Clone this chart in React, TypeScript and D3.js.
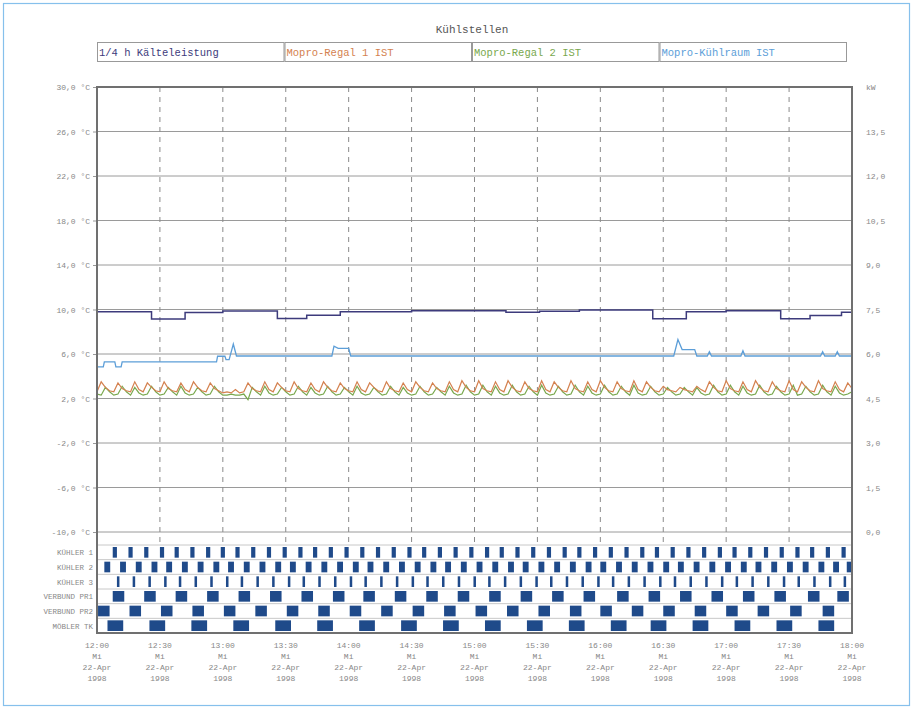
import React, { useEffect, useRef } from 'react';
import * as d3 from 'd3';

// minutes after 12:00 on 22-Apr-1998
const tickTimes = ["12:00", "12:30", "13:00", "13:30", "14:00", "14:30", "15:00", "15:30", "16:00", "16:30", "17:00", "17:30", "18:00"];
const tickDay = "Mi";
const tickDate = "22-Apr";
const tickYear = "1998";

const seriesNames = ["1/4 h Kälteleistung", "Mopro-Regal 1 IST", "Mopro-Regal 2 IST", "Mopro-Kühlraum IST"];
const seriesColors = ["#3d3b7c", "#d4814f", "#79a84e", "#5c9ed8"];

const tempTicks = [-10, -6, -2, 2, 6, 10, 14, 18, 22, 26, 30];
const powerTicks = [0, 1.5, 3, 4.5, 6, 7.5, 9, 10.5, 12, 13.5, 15];

// 1/4 h Kälteleistung [minute, kW] (step)
const powerData: [number, number][] = [
  [0, 7.42], [26, 7.18], [42, 7.40], [60, 7.45], [86, 7.20], [100, 7.31], [116, 7.42],
  [150, 7.46], [195, 7.41], [211, 7.44], [230, 7.48], [265, 7.19], [281, 7.42],
  [300, 7.46], [326, 7.19], [340, 7.30], [355, 7.41], [360, 7.41]
];

// Mopro-Kühlraum IST [minute, °C]
const roomData: [number, number][] = [
  [0, 4.85], [3, 4.85], [3.5, 5.3], [8.5, 5.3], [9, 4.85], [11.5, 4.85], [12, 5.3], [57, 5.3],
  [57.5, 5.8], [61, 5.8], [61.5, 5.5], [63, 5.5], [65, 6.9], [66.5, 5.82], [112, 5.82],
  [113, 6.7], [115, 6.5], [120, 6.5], [121, 5.82], [275, 5.82], [277, 7.3], [279, 6.4],
  [285, 6.4], [286, 5.82], [291, 5.82], [292, 6.2], [293, 5.82], [307, 5.82], [308, 6.3],
  [309, 5.82], [345, 5.82], [346, 6.2], [347, 5.82], [352, 5.82], [353, 6.2], [354, 5.82], [360, 5.82]
];

// Mopro-Regal 1 IST, every 2 minutes from 12:00
const regal1 = [
  2.6, 3.5, 3.0, 2.7, 2.6, 3.4, 2.9, 2.7, 2.6, 3.5, 2.8, 2.6, 3.4, 3.0, 2.7,
  2.6, 3.5, 2.9, 2.7, 2.6, 3.4, 2.8, 2.6, 3.5, 3.0, 2.7, 2.6, 3.4, 2.9, 2.7,
  2.5, 2.6, 2.5, 2.8, 2.5, 2.6, 3.4, 2.9, 2.7, 2.6, 3.5, 2.8, 2.6, 3.4, 3.0,
  2.7, 2.6, 3.5, 2.9, 2.7, 2.6, 3.4, 2.8, 2.6, 3.5, 3.0, 2.7, 2.6, 3.4, 2.9,
  2.7, 2.6, 3.5, 2.8, 2.6, 3.4, 3.0, 2.7, 2.6, 3.5, 2.9, 2.7, 2.6, 3.4, 2.8,
  2.6, 3.5, 3.0, 2.7, 2.6, 3.4, 2.9, 2.7, 2.6, 3.5, 2.8, 2.6, 3.6, 3.0, 2.7,
  2.6, 3.6, 2.9, 2.7, 2.6, 3.5, 2.8, 2.6, 3.6, 3.0, 2.7, 2.6, 3.5, 2.9, 2.7,
  2.6, 3.6, 2.8, 2.6, 3.5, 3.0, 2.7, 2.6, 3.6, 2.9, 2.7, 2.6, 3.5, 2.8, 2.6,
  3.6, 3.0, 2.7, 2.6, 3.5, 2.9, 2.7, 2.6, 3.6, 2.8, 2.6, 3.5, 3.0, 2.7, 2.6,
  3.1, 2.8, 2.7, 2.6, 3.0, 2.8, 2.7, 2.6, 3.1, 2.8, 2.6, 3.5, 3.0, 2.7, 2.6,
  3.6, 2.9, 2.7, 2.6, 3.5, 2.8, 2.6, 3.6, 3.0, 2.7, 2.6, 3.5, 2.9, 2.7, 2.6,
  3.6, 2.8, 2.6, 3.5, 3.0, 2.7, 2.6, 3.6, 2.9, 2.7, 2.6, 3.5, 2.8, 2.6, 3.4,
  2.9
];

// Mopro-Regal 2 IST, every 2 minutes from 12:00
const regal2 = [
  2.4, 2.3, 3.0, 2.6, 2.3, 2.4, 3.1, 2.6, 2.3, 3.0, 2.5, 2.3, 2.4, 3.1, 2.6,
  2.3, 2.4, 3.0, 2.6, 2.3, 3.1, 2.5, 2.3, 2.4, 3.0, 2.6, 2.3, 2.4, 3.1, 2.6,
  2.3, 2.3, 2.4, 2.3, 2.3, 2.4, 1.9, 3.0, 2.6, 2.3, 3.1, 2.5, 2.3, 2.4, 3.0,
  2.6, 2.3, 2.4, 3.1, 2.6, 2.3, 3.0, 2.5, 2.3, 2.4, 3.1, 2.6, 2.3, 2.4, 3.0,
  2.6, 2.3, 3.1, 2.5, 2.3, 2.4, 3.0, 2.6, 2.3, 2.4, 3.1, 2.6, 2.3, 3.0, 2.5,
  2.3, 2.4, 3.1, 2.6, 2.3, 2.4, 3.0, 2.6, 2.3, 3.1, 2.5, 2.3, 2.4, 3.2, 2.6,
  2.3, 2.4, 3.2, 2.6, 2.3, 3.1, 2.5, 2.3, 2.4, 3.2, 2.6, 2.3, 2.4, 3.1, 2.6,
  2.3, 3.2, 2.5, 2.3, 2.4, 3.1, 2.6, 2.3, 2.4, 3.2, 2.6, 2.3, 3.1, 2.5, 2.3,
  2.4, 3.2, 2.6, 2.3, 2.4, 3.1, 2.6, 2.3, 3.2, 2.5, 2.3, 2.4, 3.1, 2.6, 2.3,
  2.4, 3.0, 2.6, 2.3, 2.4, 3.0, 2.6, 2.3, 3.0, 2.5, 2.3, 2.4, 3.2, 2.6, 2.3,
  2.4, 3.2, 2.6, 2.3, 3.1, 2.5, 2.3, 2.4, 3.2, 2.6, 2.3, 2.4, 3.1, 2.6, 2.3,
  2.4, 3.2, 2.3, 2.4, 3.1, 2.6, 2.3, 2.4, 3.2, 2.6, 2.3, 3.1, 2.5, 2.3, 2.4,
  2.6
];

// digital channels: ON start minutes + on duration
const digitalNames = ["KÜHLER 1", "KÜHLER 2", "KÜHLER 3", "VERBUND PR1", "VERBUND PR2", "MÖBLER TK"];
const kuehler1 = [7.5, 15, 22.5, 30, 37, 44.5, 52, 59, 66, 73.5, 81, 88.5, 96, 103, 110.5, 118, 125.5, 133, 140.5, 148, 155, 162.5, 170, 177.5, 185, 192, 199.5, 207, 214.5, 222, 229, 236.5, 244, 251.5, 259, 266, 273.5, 281, 288.5, 296, 303, 310.5, 318, 325.5, 333, 340, 347.5, 355];
const kuehler2 = [3.5, 11, 18.5, 26, 33, 40.5, 48, 55.5, 62.5, 70, 77.5, 85, 92, 99.5, 107, 114.5, 122, 129, 136.5, 144, 151.5, 159, 166, 173.5, 181, 188.5, 196, 203, 210.5, 218, 225.5, 233, 240, 247.5, 255, 262.5, 270, 277, 284.5, 292, 299.5, 307, 314, 321.5, 329, 336.5, 344, 351, 357.5];
const kuehler3 = [9.5, 17, 24.5, 32, 39, 46.5, 54, 61.5, 68.5, 76, 83.5, 91, 98, 105.5, 113, 120.5, 127.5, 135, 142.5, 150, 157, 164.5, 172, 179.5, 186.5, 194, 201.5, 209, 216, 223.5, 231, 238.5, 245.5, 253, 260.5, 268, 275, 282.5, 290, 297.5, 304.5, 312, 319.5, 327, 334, 341.5, 349, 356];
const verbund1 = [7.5, 22.5, 37.5, 52.5, 67.5, 82.5, 97.5, 112.5, 127, 142, 157, 172, 187, 202, 217, 232, 248, 263, 278, 293, 308, 323, 339, 353];
const verbund2 = [0.5, 15.5, 30.5, 45.5, 60.5, 75.5, 90.5, 105.5, 120.5, 135.5, 150.5, 165.5, 180.5, 195.5, 210.5, 225.5, 240, 255, 270, 285, 300, 315, 330.5, 346];
const moebler = [5, 25, 45, 65, 85, 105, 125, 145, 165, 185, 205, 225, 245, 264, 284, 304, 324, 344];
const digitalStarts = [kuehler1, kuehler2, kuehler3, verbund1, verbund2, moebler];
const digitalDurations = [2, 2.8, 1.2, 5.5, 5.5, 7.5];

const FONT = "'Liberation Mono', 'DejaVu Sans Mono', monospace";

const App = () => {
    const ref = useRef<SVGSVGElement | null>(null);

    useEffect(() => {
        if (!ref.current) return;
        const svg = d3.select(ref.current);
        svg.selectAll("*").remove();

        const left = 97, right = 852, top = 87, plotBottom = 532;
        const digTop = 545, digBottom = 633;

        const x = d3.scaleLinear().domain([0, 360]).range([left, right]);
        const yT = d3.scaleLinear().domain([-10, 30]).range([plotBottom, top]);
        const yP = d3.scaleLinear().domain([0, 15]).range([plotBottom, top]);
        const row = d3.scaleBand<number>().domain(d3.range(digitalNames.length)).range([digTop, digBottom]);

        // outer frame
        svg.append("rect").attr("x", 3.5).attr("y", 3.5).attr("width", 906).attr("height", 702)
            .attr("fill", "white").attr("stroke", "#86c0ec").attr("stroke-width", 1.2);

        // title
        svg.append("text").attr("x", 472).attr("y", 33).attr("text-anchor", "middle")
            .attr("font-family", FONT).attr("font-size", 11).attr("fill", "#555").text("Kühlstellen");

        // legend boxes
        const legX = d3.scaleBand<number>().domain(d3.range(4)).range([97, 847]);
        seriesNames.forEach((name, i) => {
            const g = svg.append("g").attr("transform", `translate(${legX(i)},42)`);
            g.append("rect").attr("x", 0.5).attr("y", 0.5).attr("width", legX.bandwidth() - 1).attr("height", 19)
                .attr("fill", "white").attr("stroke", "#999").attr("stroke-width", 1);
            g.append("text").attr("x", 2).attr("y", 14).attr("font-family", FONT).attr("font-size", 10.5)
                .attr("fill", seriesColors[i]).text(name);
        });

        // horizontal grid
        svg.append("g").selectAll("line").data(tempTicks).enter().append("line")
            .attr("x1", left).attr("x2", right).attr("y1", d => yT(d)).attr("y2", d => yT(d))
            .attr("stroke", "#9a9a9a").attr("stroke-width", 1);

        // vertical dashed grid
        svg.append("g").selectAll("line").data(tickTimes.slice(1, -1)).enter().append("line")
            .attr("x1", (_, i) => x((i + 1) * 30)).attr("x2", (_, i) => x((i + 1) * 30))
            .attr("y1", top).attr("y2", digTop)
            .attr("stroke", "#8a8a8a").attr("stroke-width", 1).attr("stroke-dasharray", "5,5");

        // left axis
        const axL = svg.append("g").attr("transform", `translate(${left},0)`)
            .call(d3.axisLeft(yT).tickValues(tempTicks).tickSize(4)
                .tickFormat(d => (+d).toFixed(1).replace(".", ",") + " °C"));
        axL.selectAll("text").attr("font-family", FONT).attr("font-size", 8).attr("fill", "#888");
        axL.selectAll(".tick line").attr("stroke", "#999");
        axL.select(".domain").remove();

        // right axis
        const axR = svg.append("g").attr("transform", `translate(${right},0)`)
            .call(d3.axisRight(yP).tickValues(powerTicks).tickSize(0).tickPadding(14)
                .tickFormat(d => +d === 15 ? "kW" : (+d).toFixed(1).replace(".", ",")));
        axR.selectAll("text").attr("font-family", FONT).attr("font-size", 8).attr("fill", "#888");
        axR.select(".domain").remove();

        // series
        const plot = svg.append("g");
        const lineT = d3.line<[number, number]>().x(d => x(d[0])).y(d => yT(d[1]));
        const toPairs = (vals: number[]) => vals.map((v, i) => [i * 2, v] as [number, number]);

        plot.append("path").datum(toPairs(regal2)).attr("d", lineT)
            .attr("fill", "none").attr("stroke", seriesColors[2]).attr("stroke-width", 1.2);
        plot.append("path").datum(toPairs(regal1)).attr("d", lineT)
            .attr("fill", "none").attr("stroke", seriesColors[1]).attr("stroke-width", 1.2);
        plot.append("path").datum(roomData).attr("d", lineT)
            .attr("fill", "none").attr("stroke", seriesColors[3]).attr("stroke-width", 1.3);
        plot.append("path").datum(powerData)
            .attr("d", d3.line<[number, number]>().x(d => x(d[0])).y(d => yP(d[1])).curve(d3.curveStepAfter))
            .attr("fill", "none").attr("stroke", seriesColors[0]).attr("stroke-width", 1.5);

        // digital channels
        const dig = svg.append("g");
        digitalNames.forEach((name, i) => {
            const y0 = row(i)!;
            const h = row.bandwidth();
            dig.append("line").attr("x1", left).attr("x2", right).attr("y1", y0 + h).attr("y2", y0 + h)
                .attr("stroke", "#c8c8c8");
            dig.selectAll(null).data(digitalStarts[i]).enter().append("rect")
                .attr("x", d => x(d))
                .attr("width", d => x(Math.min(360, d + digitalDurations[i])) - x(d))
                .attr("y", y0 + 2).attr("height", h - 4)
                .attr("fill", "#1f4a8a");
            dig.append("text").attr("x", left - 4).attr("y", y0 + h / 2 + 3).attr("text-anchor", "end")
                .attr("font-family", FONT).attr("font-size", 7.5).attr("fill", "#888").text(name);
        });
        dig.append("line").attr("x1", left).attr("x2", right).attr("y1", digTop).attr("y2", digTop)
            .attr("stroke", "#c8c8c8");

        // frame
        svg.append("rect").attr("x", left).attr("y", top).attr("width", right - left).attr("height", digBottom - top)
            .attr("fill", "none").attr("stroke", "#707070").attr("stroke-width", 2);

        // x labels
        const xl = svg.append("g");
        tickTimes.forEach((t, i) => {
            const tx = x(i * 30);
            [t, tickDay, tickDate, tickYear].forEach((s, j) => {
                xl.append("text").attr("x", tx).attr("y", 648 + j * 11).attr("text-anchor", "middle")
                    .attr("font-family", FONT).attr("font-size", 8).attr("fill", "#888").text(s);
            });
        });
    }, []);

    return (
        <svg ref={ref} width={914} height={710}
            style={{ position: "absolute", left: 0, top: 0, display: "block", background: "white" }} />
    );
};

export default App;
